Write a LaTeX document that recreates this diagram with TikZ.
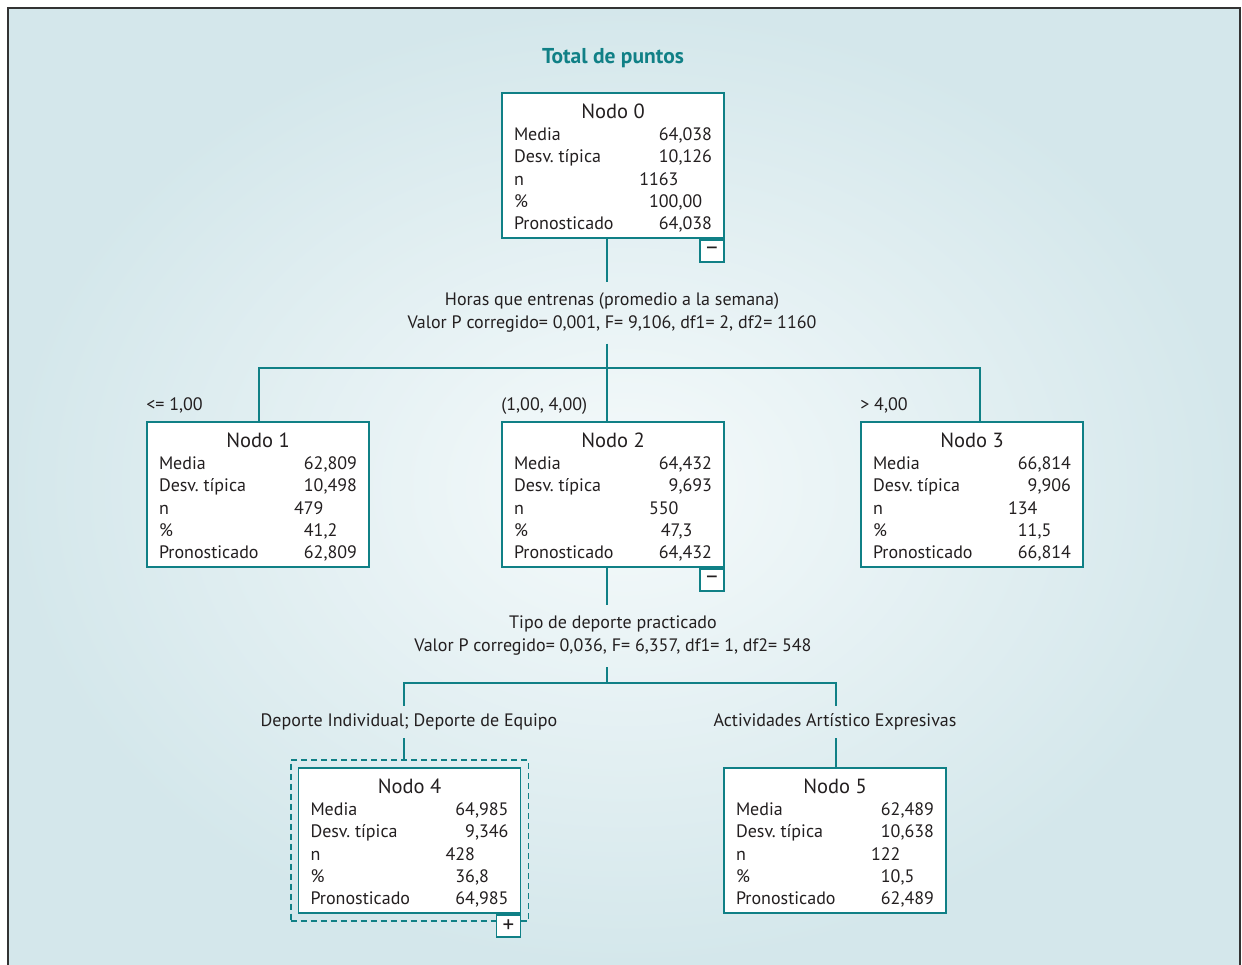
\documentclass[tikz,border=0pt]{standalone}
\usepackage{fontspec}
\setmainfont{PT Sans}
\usetikzlibrary{fit}

\definecolor{verde}{RGB}{16,128,134}
\definecolor{tinta}{RGB}{35,31,32}
\definecolor{fondo}{RGB}{212,231,235}
\definecolor{fondoclaro}{RGB}{245,250,251}

\newcommand{\estad}[6]{%
\begin{tabular*}{198pt}{@{}l@{\extracolsep{\fill}}r@{}}
\multicolumn{2}{c}{\fontsize{20.5}{22.3}\selectfont\rule{0pt}{23.4pt}#1}\\
Media         & #2\\
Desv.\ típica & #3\\
n             & #4\\
\%            & #5\\
Pronosticado  & #6
\end{tabular*}}

\begin{document}
\begin{tikzpicture}[x=1pt,y=-1pt,
  nodo/.style={draw=verde,line width=1.8pt,fill=white,text=tinta,
    minimum width=222,minimum height=145,inner xsep=12,inner ysep=0,
    font=\fontsize{18}{22.3}\selectfont},
  boton/.style={draw=verde,line width=1.8pt,fill=white,text=tinta,
    minimum width=24,minimum height=22,inner sep=0,anchor=north east,
    font=\fontsize{23}{22}\selectfont},
  corte/.style={text=tinta,align=center,inner sep=0,
    font=\fontsize{18}{23}\selectfont},
  rama/.style={draw=verde,line width=2pt},
  seleccion/.style={draw=verde,line width=1.8pt,dash pattern=on 6pt off 4pt,inner sep=7pt}]
\useasboundingbox (0,0) rectangle (1242,965);
\shade[inner color=fondoclaro,outer color=fondo] (8,8) rectangle (1240,965);
\draw[line width=2pt,color=black!80] (8,965) -- (8,8) -- (1240,8) -- (1240,965);

\node[text=verde,font=\fontsize{21.5}{24}\selectfont\bfseries] (tit) at (613,58) {Total de puntos};

\node[nodo] (n0) at (613,165.5) {\estad{Nodo 0}{64,038}{10,126}{1163\phantom{,000}}{100,00\phantom{0}}{64,038}};
\node[nodo] (n1) at (258,494.5) {\estad{Nodo 1}{62,809}{10,498}{479\phantom{,000}}{41,2\phantom{00}}{62,809}};
\node[nodo] (n2) at (613,494.5) {\estad{Nodo 2}{64,432}{9,693}{550\phantom{,000}}{47,3\phantom{00}}{64,432}};
\node[nodo] (n3) at (972,494.5) {\estad{Nodo 3}{66,814}{9,906}{134\phantom{,000}}{11,5\phantom{00}}{66,814}};
\node[nodo] (n4) at (409.5,840.5) {\estad{Nodo 4}{64,985}{9,346}{428\phantom{,000}}{36,8\phantom{00}}{64,985}};
\node[nodo] (n5) at (835,840.5) {\estad{Nodo 5}{62,489}{10,638}{122\phantom{,000}}{10,5\phantom{00}}{62,489}};

\node[corte,minimum height=61] (h0) at (612,313) {Horas que entrenas (promedio a la semana)\\Valor P corregido= 0,001, F= 9,106, df1= 2, df2= 1160};
\node[corte,minimum height=62] (h2) at (613,636) {Tipo de deporte practicado\\Valor P corregido= 0,036, F= 6,357, df1= 1, df2= 548};
\node[corte,minimum height=32] (l4) at (409,722) {Deporte Individual; Deporte de Equipo};
\node[corte,minimum height=32] (l5) at (835,722) {Actividades Artístico Expresivas};

\node[corte,anchor=base west,yshift=11] (l1) at (n1.north west) {<= 1,00};
\node[corte,anchor=base west,yshift=11] (l2) at (n2.north west) {(1,00, 4,00)};
\node[corte,anchor=base west,yshift=11] (l3) at (n3.north west) {> 4,00};

\coordinate (b1) at (259,368);
\coordinate (b2) at (607,368);
\coordinate (b3) at (980,368);
\coordinate (c0) at (607,683);
\coordinate (c4) at (404,683);
\coordinate (c5) at (836,683);

\draw[rama] (n1.north -| b1) -- (b1) -- (b3) -- (n3.north -| b3);
\draw[rama] (l4.north -| c4) -- (c4) -- (c5) -- (l5.north -| c5);
\path[rama]
(n0.south -| b2) edge (h0.north -| b2)
(h0.south -| b2) edge (b2)
(b2)             edge (n2.north -| b2)
(n2.south -| c0) edge (h2.north -| c0)
(h2.south -| c0) edge (c0)
(l5.south -| c5) edge (n5.north -| c5)
;

\node[seleccion,fit=(n4)] (f4) {};
\path[rama] (l4.south -| c4) edge (f4.north -| c4);

\node[boton] (t0) at (n0.south east) {–};
\node[boton] (t2) at (n2.south east) {–};
\node[boton] (t4) at (n4.south east) {+};
\end{tikzpicture}
\end{document}
